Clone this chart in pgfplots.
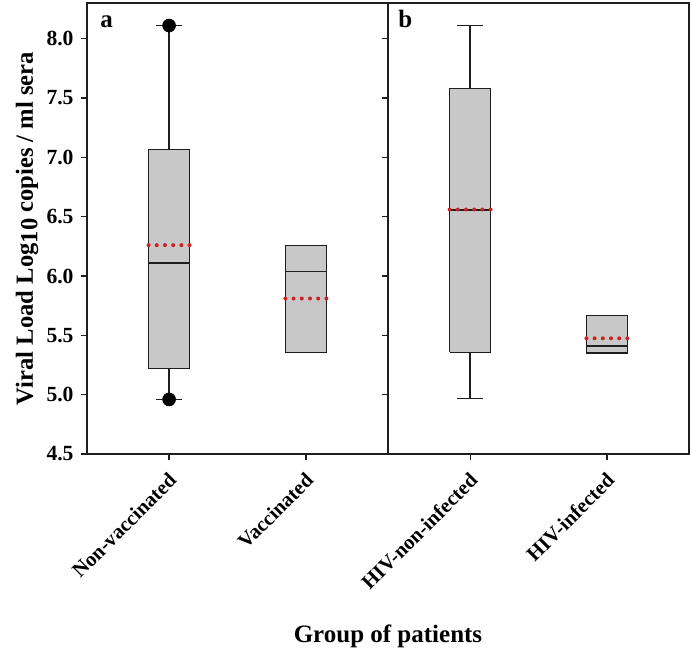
\documentclass[border=0pt]{standalone}
\usepackage{pgfplots}
\pgfplotsset{compat=1.18}
\usepackage{fontspec}
\setmainfont{Liberation Serif}
\definecolor{boxgray}{RGB}{200,200,200}
\definecolor{meanred}{RGB}{208,32,32}
\definecolor{edge}{RGB}{30,30,30}
\pgfplotsset{
  panel/.style={
    width=150.5pt, height=225.5pt, scale only axis,
    xmin=0.4, xmax=2.6, ymin=4.5, ymax=8.3,
    ytick={4.5,5,5.5,6,6.5,7,7.5,8},
    xtick={1,2},
    tick align=outside, major tick length=3.2pt,
    tick style={edge, line width=0.6pt},
    axis line style={edge, line width=0.7pt},
    xtick pos=bottom, ytick pos=left,
    yticklabel style={font=\bfseries\fontsize{10.8}{12}\selectfont,
      /pgf/number format/assume math mode=true,
      /pgf/number format/fixed, /pgf/number format/fixed zerofill, /pgf/number format/precision=1},
    xticklabel style={font=\bfseries\fontsize{10.3}{11}\selectfont, xshift=-0.8pt, yshift=-3.9pt, rotate=45, anchor=north east, inner sep=1pt},
  },
  bx/.style={draw=edge, fill=boxgray, line width=0.65pt, line join=miter},
  ln/.style={edge, line width=0.65pt},
  mn/.style={meanred, line width=2pt, dash pattern=on 0pt off 4.1pt, line cap=round},
}
\begin{document}
\begin{tikzpicture}
\begin{axis}[panel, name=A,
  xticklabels={Non-vaccinated, Vaccinated},
  ylabel={Viral Load Log\raisebox{-0.4ex}{10} copies / ml sera},
  ylabel style={at={(axis description cs:-0.199,0.5)}, anchor=center, font=\bfseries\fontsize{12.3}{14}\selectfont},
  xlabel={Group of patients},
  xlabel style={at={(axis description cs:1,-0.4035)}, anchor=center, font=\bfseries\fontsize{12.5}{14}\selectfont},
]
% Non-vaccinated: whiskers 4.96 / 8.11, quartiles 5.22 / 7.065, median 6.11, mean 6.26
\addplot[ln] coordinates {(1,7.065) (1,8.11)};
\addplot[ln] coordinates {(0.905,8.11) (1.095,8.11)};
\addplot[ln] coordinates {(1,5.22) (1,4.96)};
\addplot[ln] coordinates {(0.905,4.96) (1.095,4.96)};
\addplot[bx] coordinates {(0.85,5.22) (1.15,5.22) (1.15,7.065) (0.85,7.065) (0.85,5.22)};
\addplot[ln] coordinates {(0.85,6.11) (1.15,6.11)};
\addplot[only marks, mark=*, mark size=3.2pt, black] coordinates {(1,8.11) (1,4.96)};
\addplot[mn] coordinates {(0.85,6.26) (1.15,6.26)};
% Vaccinated: quartiles 5.357 / 6.255, median 6.04, mean 5.81
\addplot[bx] coordinates {(1.85,5.357) (2.15,5.357) (2.15,6.255) (1.85,6.255) (1.85,5.357)};
\addplot[ln] coordinates {(1.85,6.04) (2.15,6.04)};
\addplot[mn] coordinates {(1.85,5.81) (2.15,5.81)};
\node[anchor=base west, font=\bfseries\fontsize{12.5}{13}\selectfont, inner sep=0pt] at (rel axis cs:0.043,0.945) {a};
\end{axis}
\begin{axis}[panel, name=B, at={(A.south east)}, anchor=south west,
  xticklabels={HIV-non-infected, HIV-infected},
  yticklabels={},
]
% HIV-non-infected: whiskers 4.965 / 8.11, quartiles 5.357 / 7.58, median 6.556, mean 6.56
\addplot[ln] coordinates {(1,7.58) (1,8.11)};
\addplot[ln] coordinates {(0.905,8.11) (1.095,8.11)};
\addplot[ln] coordinates {(1,5.357) (1,4.965)};
\addplot[ln] coordinates {(0.905,4.965) (1.095,4.965)};
\addplot[bx] coordinates {(0.85,5.357) (1.15,5.357) (1.15,7.58) (0.85,7.58) (0.85,5.357)};
\addplot[ln] coordinates {(0.85,6.556) (1.15,6.556)};
\addplot[mn] coordinates {(0.85,6.56) (1.15,6.56)};
% HIV-infected: quartiles 5.35 / 5.668, median 5.41, mean 5.475
\addplot[bx] coordinates {(1.85,5.35) (2.15,5.35) (2.15,5.668) (1.85,5.668) (1.85,5.35)};
\addplot[ln] coordinates {(1.85,5.41) (2.15,5.41)};
\addplot[mn] coordinates {(1.85,5.475) (2.15,5.475)};
\node[anchor=base west, font=\bfseries\fontsize{12.5}{13}\selectfont, inner sep=0pt] at (rel axis cs:0.033,0.945) {b};
\end{axis}
\pgfresetboundingbox
\path[use as bounding box] ([xshift=-43.5pt,yshift=-99.5pt]A.south west) rectangle ([xshift=1.5pt,yshift=1.5pt]B.north east);
\end{tikzpicture}
\end{document}
